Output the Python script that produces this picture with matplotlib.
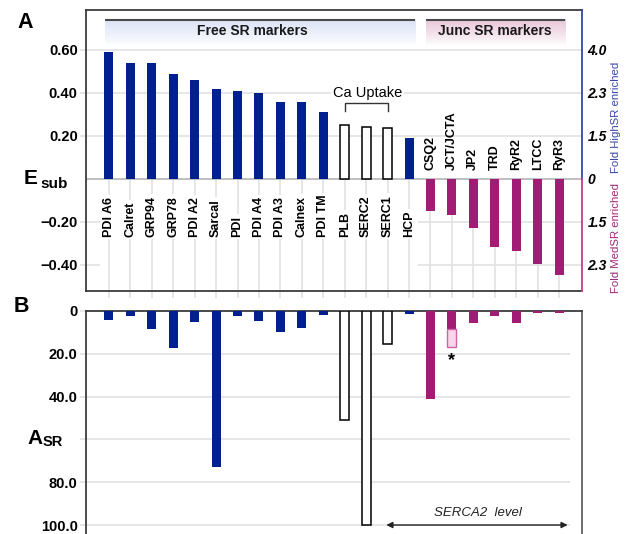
import numpy as np
import matplotlib
matplotlib.use("Agg")
import matplotlib.pyplot as plt

plt.rcParams['font.family'] = ['Liberation Sans', 'DejaVu Sans']

# protein names, free SR markers then junctional SR markers
free_names = ['PDI A6', 'Calret', 'GRP94', 'GRP78', 'PDI A2', 'Sarcal', 'PDI',
              'PDI A4', 'PDI A3', 'Calnex', 'PDI TM', 'PLB', 'SERC2', 'SERC1', 'HCP']
junc_names = ['CSQ2', 'JCT/JCTA', 'JP2', 'TRD', 'RyR2', 'LTCC', 'RyR3']

# panel A: E_sub enrichment values
esub_free = [0.59, 0.54, 0.54, 0.49, 0.46, 0.42, 0.41, 0.40, 0.36, 0.36, 0.31,
             0.25, 0.24, 0.235, 0.19]
esub_junc = [-0.147, -0.167, -0.226, -0.316, -0.335, -0.395, -0.445]

# panel B: A_SR abundance values
asr_free = [4.3, 2.5, 8.6, 17.4, 5.1, 72.8, 2.5, 4.6, 9.7, 7.8, 2.0, 50.8, 100.0, 15.4, 1.5]
asr_junc = [40.9, 8.6, 5.8, 2.2, 5.5, 1.1, 0.9]
jct_extra = 8.0  # extra JCT/JCTA abundance (starred)

ca_uptake = ['PLB', 'SERC2', 'SERC1']

left_ticks_a = [0.6, 0.4, 0.2, -0.2, -0.4]
left_labels_a = ['0.60', '0.40', '0.20', '\u22120.20', '\u22120.40']
right_ticks_a = [0.6, 0.4, 0.2, 0.0, -0.2, -0.4]
right_labels_a = ['4.0', '2.3', '1.5', '0', '1.5', '2.3']
ticks_b = [0, 20, 40, 60, 80, 100]
labels_b = ['0', '20.0', '40.0', '', '80.0', '100.0']

BLUE = '#00208f'
MAGENTA = '#a11c74'
GRID = '#e2e2e2'
FRAME = '#3c3c3c'

names = free_names + junc_names
n_free = len(free_names)
x = np.arange(len(names))
xlim = (-1.07, len(names) - 1 + 1.07)
width = 0.42

W, H = 629, 534
fig = plt.figure(figsize=(W / 100, H / 100), dpi=100)
axA = fig.add_axes([86 / W, 1 - 291 / H, 496 / W, 281 / H])
axB = fig.add_axes([86 / W, 0, 496 / W, 223 / H])

# ---------------- panel A ----------------
axA.set_xlim(*xlim)
axA.set_ylim(-0.521, 0.786)

for y in [0.6, 0.4, 0.2]:
    axA.axhline(y, color=GRID, lw=1.2, zorder=0)
axA.axhline(0, color='#b4b4b4', lw=1.2, zorder=1)
for y in [-0.2, -0.4]:
    axA.hlines(y, 14.4, xlim[1], color=GRID, lw=1.2, zorder=0)
    axA.hlines(y, xlim[0], -0.42, color=GRID, lw=1.2, zorder=0)
axA.vlines(x, axA.get_ylim()[0], 0, color=GRID, lw=1.2, zorder=0)

for i, name in enumerate(free_names):
    if name in ca_uptake:
        axA.bar(x[i], esub_free[i], width, color='white', edgecolor='black', lw=1.1, zorder=3)
    else:
        axA.bar(x[i], esub_free[i], width, color=BLUE, zorder=3)
    axA.text(x[i], -0.271, name, rotation=90, ha='center', va='bottom',
             fontsize=9, fontweight='bold', zorder=2,
             bbox=dict(fc='white', ec='none', pad=1.5))
for j, name in enumerate(junc_names):
    axA.bar(x[n_free + j], esub_junc[j], width, color=MAGENTA, zorder=3)
    axA.text(x[n_free + j], 0.042, name, rotation=90, ha='center', va='bottom',
             fontsize=9, fontweight='bold', zorder=2)

# header banners with fading colour
grad = np.linspace(1, 0, 64).reshape(-1, 1)
for (x0, x1, xt, c, label) in [(-0.19, 14.3, 6.68, (0.86, 0.89, 0.97), 'Free SR markers'),
                              (14.77, 21.3, 18.0, (0.91, 0.78, 0.85), 'Junc SR markers')]:
    img = np.ones((64, 1, 3))
    for k in range(3):
        img[:, 0, k] = 1 - (1 - c[k]) * grad[:, 0] ** 0.8
    axA.imshow(img, extent=(x0, x1, 0.623, 0.740), aspect='auto', zorder=1,
               interpolation='bicubic')
    axA.hlines(0.740, x0, x1, color='#4a4a4a', lw=1.5, zorder=2)
    axA.text(xt, 0.688, label, ha='center', va='center',
             fontsize=10, fontweight='bold', color='#1a1a1a', zorder=3)

# Ca uptake bracket
axA.plot([11, 11, 13, 13], [0.318, 0.354, 0.354, 0.318], color='#333333', lw=1.0, zorder=3)
axA.text(12.05, 0.40, 'Ca Uptake', ha='center', va='center', fontsize=10.5, zorder=3,
         bbox=dict(fc='white', ec='none', pad=1.5))

axA.set_xticks(x)
axA.set_xticklabels([])
axA.tick_params(axis='x', length=5, color=GRID, width=1.2)
axA.set_yticks(left_ticks_a)
axA.set_yticklabels(left_labels_a, fontsize=10.5, fontweight='bold')
axA.tick_params(axis='y', length=4, color=GRID, width=1.2, pad=2)
for s in ['top', 'left', 'bottom']:
    axA.spines[s].set_color(FRAME)
    axA.spines[s].set_linewidth(1.3)
axA.spines['right'].set_visible(False)

# right axis: fold enrichment, coloured by direction
axR = axA.twinx()
axR.set_ylim(axA.get_ylim())
axR.set_yticks(right_ticks_a)
axR.set_yticklabels(right_labels_a, fontsize=10, fontweight='bold', style='italic')
axR.tick_params(axis='y', length=0, pad=4)
for s in axR.spines.values():
    s.set_visible(False)
y0 = 0.521 / (0.786 + 0.521)
axR.plot([1, 1], [y0, 1], color='#3848a8', lw=1.3, transform=axR.transAxes, clip_on=False)
axR.plot([1, 1], [0, y0], color='#c0428a', lw=1.3, transform=axR.transAxes, clip_on=False)
fig.text(616 / W, 1 - 117 / H, 'Fold HighSR enriched', rotation=90, ha='center',
         va='center', fontsize=8.2, color='#3848a8')
fig.text(616 / W, 1 - 238 / H, 'Fold MedSR enriched', rotation=90, ha='center',
         va='center', fontsize=8.2, color='#9c2a78')

# ---------------- panel B ----------------
axB.set_xlim(*xlim)
axB.set_ylim(104.2, 0)
for y in ticks_b[1:]:
    axB.hlines(y, xlim[0], 21.5, color=GRID, lw=1.2, zorder=0)

for i, name in enumerate(free_names):
    if name in ca_uptake:
        axB.bar(x[i], asr_free[i], width, color='white', edgecolor='black', lw=1.1, zorder=3)
    else:
        axB.bar(x[i], asr_free[i], width, color=BLUE, zorder=3)
for j, name in enumerate(junc_names):
    axB.bar(x[n_free + j], asr_junc[j], width, color=MAGENTA, zorder=3)
jct = n_free + junc_names.index('JCT/JCTA')
axB.bar(x[jct], jct_extra, width, bottom=asr_junc[1], color='#f6d6e8',
        edgecolor='#d060a8', lw=1.0, zorder=3)
axB.text(x[jct], asr_junc[1] + jct_extra + 6.5, '*', ha='center', va='center',
         fontsize=13, fontweight='bold')

# SERCA2 reference span
axB.annotate('', xy=(12.94, 100), xytext=(21.4, 100),
             arrowprops=dict(arrowstyle='<|-|>', color='#222222', lw=1.0,
                             mutation_scale=9, shrinkA=0, shrinkB=0))
axB.text(17.2, 97.2, 'SERCA2  level', ha='center', va='bottom', fontsize=9.5,
         style='italic', color='#222222')

axB.set_xticks([])
axB.set_yticks(ticks_b)
axB.set_yticklabels(labels_b, fontsize=10.5, fontweight='bold')
axB.tick_params(axis='y', length=4, color=GRID, width=1.2, pad=2)
axB.spines['bottom'].set_visible(False)
for s in ['top', 'left']:
    axB.spines[s].set_color(FRAME)
    axB.spines[s].set_linewidth(1.3)
axB.spines['right'].set_color('#555555')
axB.spines['right'].set_linewidth(1.2)

# panel letters and axis names
fig.text(17 / W, 1 - 28 / H, 'A', fontsize=15.5, fontweight='bold')
fig.text(14 / W, 1 - 312 / H, 'B', fontsize=15.5, fontweight='bold')
fig.text(24 / W, 1 - 184 / H, 'E', fontsize=15, fontweight='bold')
fig.text(40 / W, 1 - 188 / H, 'sub', fontsize=11, fontweight='bold')
fig.text(27 / W, 1 - 444 / H, 'A', fontsize=15, fontweight='bold')
fig.text(43 / W, 1 - 446 / H, 'SR', fontsize=10.5, fontweight='bold')

fig.savefig('out.png', dpi=100)
